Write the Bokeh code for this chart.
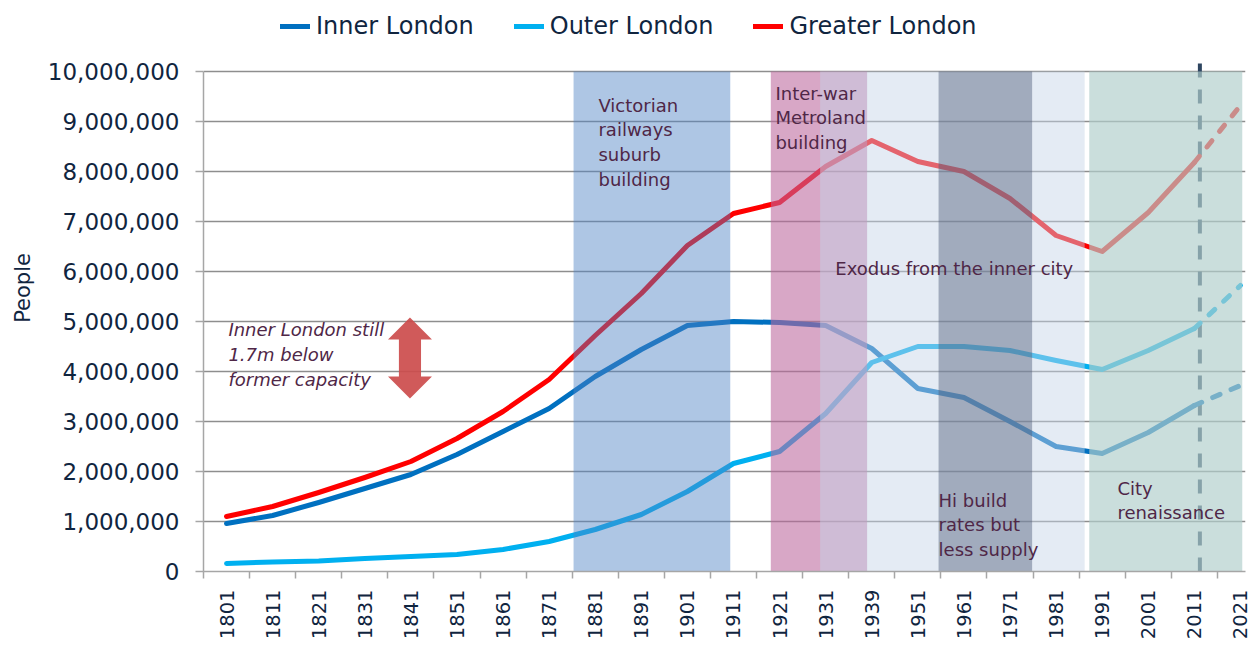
import math
from bokeh.plotting import figure
from bokeh.models import (Range1d, FixedTicker, NumeralTickFormatter, Legend,
                          LegendItem)
from bokeh.core.properties import value
from bokeh.embed import file_html
from bokeh.resources import INLINE

# ---------------- data ----------------
years = ["1801", "1811", "1821", "1831", "1841", "1851", "1861", "1871", "1881",
         "1891", "1901", "1911", "1921", "1931", "1939", "1951", "1961", "1971",
         "1981", "1991", "2001", "2011", "2021"]
inner = [960000, 1120000, 1380000, 1660000, 1940000, 2340000, 2800000, 3260000,
         3900000, 4440000, 4920000, 5000000, 4980000, 4920000, 4460000, 3660000,
         3480000, 3000000, 2500000, 2360000, 2780000, 3320000, 3720000]
outer = [160000, 190000, 210000, 260000, 300000, 340000, 440000, 600000,
         840000, 1140000, 1600000, 2160000, 2400000, 3160000, 4180000, 4500000,
         4500000, 4420000, 4220000, 4040000, 4420000, 4860000, 5720000]
greater = [1100000, 1300000, 1580000, 1880000, 2200000, 2660000, 3200000, 3840000,
           4720000, 5560000, 6520000, 7160000, 7380000, 8100000, 8620000, 8200000,
           8000000, 7460000, 6720000, 6400000, 7180000, 8180000, 9320000]
series_names = ["Inner London", "Outer London", "Greater London"]
series_colors = ["#0070C0", "#00B0F0", "#FF0000"]
last_census = "2011"   # later value is a projection (dashed)

# historical periods (x in category units, 0 = left edge of 1801)
band_start = [8.03, 12.31, 13.38, 15.95, 19.22]
band_end = [11.43, 14.40, 19.12, 17.98, 22.54]
band_colors = ["#4E83C4", "#BB689C", "#C6D5E8", "#4B5976", "#B1CECB"]
band_alphas = [0.46, 0.58, 0.47, 0.44, 0.68]

notes = ["Victorian\nrailways\nsuburb\nbuilding",
         "Inter-war\nMetroland\nbuilding",
         "Exodus from the inner city",
         "Hi build\nrates but\nless supply",
         "City\nrenaissance"]
note_x = [8.57, 12.41, 13.71, 15.95, 19.83]
note_y = [9540000, 9780000, 6060000, 1640000, 1880000]
note_baseline = ["top", "top", "middle", "top", "top"]

gap_note = "Inner London still\n1.7m below\nformer capacity"
gap_top = 5080000
gap_bottom = 3460000

# ---------------- figure ----------------
FONT = "DejaVu Sans"
NAVY = "#10253F"
NOTE_COLOR = "#4F2747"
YMAX = 10000000

n = len(years)
xs = [i + 0.5 for i in range(n)]

p = figure(width=1253, height=648, output_backend="svg", toolbar_location=None,
           x_range=Range1d(0, 22.61), y_range=Range1d(0, 11340000),
           min_border_left=203, min_border_right=8, min_border_top=4,
           min_border_bottom=77)
p.outline_line_color = None
p.background_fill_color = "white"

# axes
p.xaxis.ticker = FixedTicker(ticks=xs, minor_ticks=list(range(n)))
p.xaxis.major_label_overrides = {x: y for x, y in zip(xs, years)}
p.xaxis.major_label_orientation = math.pi / 2
p.xaxis.major_tick_line_color = None
p.xaxis.minor_tick_in = 0
p.xaxis.minor_tick_out = 7
p.xaxis.minor_tick_line_color = "#A6A6A6"
p.xaxis.minor_tick_line_width = 1.5
p.xaxis.axis_line_color = "#A6A6A6"
p.xaxis.axis_line_width = 1.5
p.xaxis.major_label_standoff = 11
p.xaxis.major_label_text_font = FONT
p.xaxis.major_label_text_font_size = "19.5px"
p.xaxis.major_label_text_color = NAVY

p.yaxis.ticker = FixedTicker(ticks=[i * 1000000 for i in range(11)])
p.yaxis.bounds = (0, YMAX)
p.yaxis.formatter = NumeralTickFormatter(format="0,0")
p.yaxis.major_tick_in = 0
p.yaxis.major_tick_out = 8
p.yaxis.minor_tick_line_color = None
p.yaxis.major_tick_line_color = "#A6A6A6"
p.yaxis.major_tick_line_width = 1.5
p.yaxis.axis_line_color = "#A6A6A6"
p.yaxis.axis_line_width = 1.5
p.yaxis.major_label_standoff = 16
p.yaxis.major_label_text_font = FONT
p.yaxis.major_label_text_font_size = "23px"
p.yaxis.major_label_text_color = NAVY
p.yaxis.axis_label = "People"
p.yaxis.axis_label_text_font = FONT
p.yaxis.axis_label_text_font_size = "21px"
p.yaxis.axis_label_text_font_style = "normal"
p.yaxis.axis_label_text_color = NAVY
p.yaxis.axis_label_standoff = 10

p.xgrid.grid_line_color = None
p.ygrid.ticker = FixedTicker(ticks=[i * 1000000 for i in range(11)])
p.ygrid.grid_line_color = "#8E8E8E"
p.ygrid.grid_line_width = 1.3

# projection marker (dashed vertical line at the last census)
k = years.index(last_census)
p.segment(x0=[xs[k] + 0.12], y0=[0], x1=[xs[k] + 0.12], y1=[YMAX * 1.03],
          line_color="#2E4560", line_width=4, line_dash="14 12")

# series lines
renderers = []
for vals, color in zip([inner, outer, greater], series_colors):
    r = p.line(xs[:k + 1], vals[:k + 1], line_color=color, line_width=5,
               line_join="round", line_cap="round")
    p.line(xs[k:], vals[k:], line_color=color, line_width=5,
           line_dash="8 12", line_cap="round")
    renderers.append(r)

# period bands (translucent, over the lines)
for l, r_, c, a in zip(band_start, band_end, band_colors, band_alphas):
    p.quad(left=l, right=r_, bottom=0, top=YMAX, fill_color=c,
           fill_alpha=a, line_color=None)

# double arrow showing the gap
cx = xs[years.index("1841")] - 0.02
hl = 440000
hh = 0.477
sh = 0.24
arrow_x = [cx, cx + hh, cx + sh, cx + sh, cx + hh, cx, cx - hh, cx - sh, cx - sh, cx - hh]
arrow_y = [gap_top, gap_top - hl, gap_top - hl, gap_bottom + hl, gap_bottom + hl,
           gap_bottom, gap_bottom + hl, gap_bottom + hl, gap_top - hl, gap_top - hl]
p.patch(arrow_x, arrow_y, fill_color="#CC4C4C", fill_alpha=0.92, line_color=None)

# notes
for t, x, y, b in zip(notes, note_x, note_y, note_baseline):
    p.text(x=[x], y=[y], text=[t], text_font=value(FONT), text_font_size="18px",
           text_color=NOTE_COLOR, text_baseline=b, text_align="left",
           text_line_height=1.19)
p.text(x=[0.54], y=[5060000], text=[gap_note], text_font=value(FONT),
       text_font_size="18px", text_font_style="italic", text_color=NOTE_COLOR,
       text_baseline="top", text_align="left", text_line_height=1.21)

# legend at top (inside the frame, above the 10M line)
legend = Legend(items=[LegendItem(label=nm, renderers=[r])
                       for nm, r in zip(series_names, renderers)],
                orientation="horizontal", location=(77, 531),
                label_text_font=FONT, label_text_font_size="24px",
                label_text_color=NAVY, glyph_width=30, glyph_height=20,
                label_standoff=6, spacing=40, padding=0, margin=0,
                border_line_color=None, background_fill_alpha=0)
p.add_layout(legend)

open("out.html", "w").write(file_html(p, INLINE))
